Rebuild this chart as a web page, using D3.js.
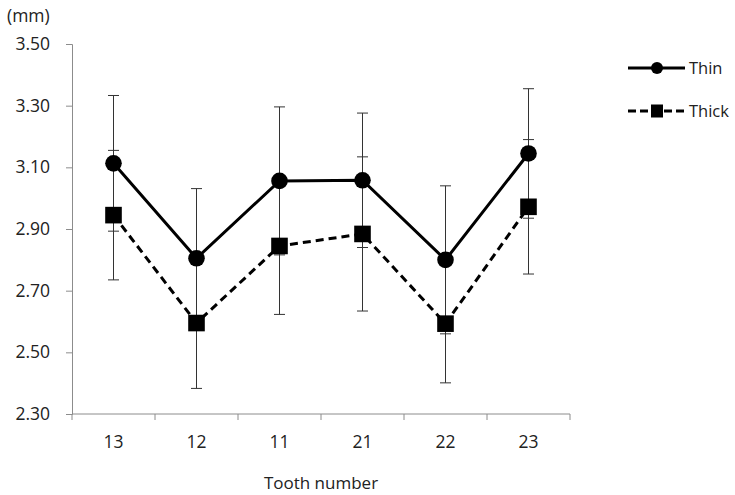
<!DOCTYPE html>
<html>
<head>
<meta charset="utf-8">
<script src="https://cdn.jsdelivr.net/npm/d3@7"></script>
<style>
  body { margin: 0; background: #fff; }
  text { font-family: "Open Sans", "Noto Sans", sans-serif; fill: #222; }
</style>
</head>
<body>
<div id="chart"></div>
<script>
// Data
const teeth = ["13", "12", "11", "21", "22", "23"];
const thinMean = [3.113, 2.805, 3.056, 3.058, 2.800, 3.145];
const thinSD   = [0.220, 0.226, 0.240, 0.218, 0.240, 0.210];
const thickMean = [2.945, 2.595, 2.845, 2.884, 2.593, 2.972];
const thickSD   = [0.210, 0.212, 0.222, 0.250, 0.192, 0.218];
const yTicks = [2.30, 2.50, 2.70, 2.90, 3.10, 3.30, 3.50];

const series = [
  { name: "Thin", mean: thinMean, sd: thinSD, dash: null, shape: "circle" },
  { name: "Thick", mean: thickMean, sd: thickSD, dash: "8,5", shape: "square" }
];

const W = 735, H = 495;
const margin = { top: 44, right: 165, bottom: 81, left: 72 };
const width = W - margin.left - margin.right;
const height = H - margin.top - margin.bottom;

const svg = d3.select("#chart").append("svg")
  .attr("width", W).attr("height", H);

const g = svg.append("g")
  .attr("transform", `translate(${margin.left},${margin.top})`);

const x = d3.scaleBand().domain(teeth).range([0, width]);
const y = d3.scaleLinear().domain([2.30, 3.50]).range([height, 0]);

// y axis
const yAxis = g.append("g")
  .call(d3.axisLeft(y).tickValues(yTicks).tickFormat(d3.format(".2f")).tickSizeOuter(0).tickSize(6).tickPadding(16));
yAxis.select(".domain").attr("stroke", "#8c8c8c");
yAxis.selectAll(".tick line").attr("stroke", "#8c8c8c");
yAxis.selectAll("text").style("font-size", "17.5px").attr("fill", "#222");

// x axis with ticks between categories
const xAxisG = g.append("g").attr("transform", `translate(0,${height})`);
xAxisG.append("line")
  .attr("x1", 0).attr("x2", width)
  .attr("stroke", "#8c8c8c");
const bounds = teeth.map(t => x(t)).concat([width]);
xAxisG.selectAll(".xt").data(bounds).join("line")
  .attr("x1", d => d).attr("x2", d => d)
  .attr("y1", 0).attr("y2", 6)
  .attr("stroke", "#8c8c8c");
xAxisG.selectAll(".xl").data(teeth).join("text")
  .attr("x", d => x(d) + x.bandwidth() / 2)
  .attr("y", 34)
  .attr("text-anchor", "middle")
  .style("font-size", "17.5px")
  .text(d => d);

// axis titles
svg.append("text").attr("x", 7).attr("y", 22)
  .style("font-size", "17.5px").text("(mm)");
svg.append("text").attr("x", margin.left + width / 2).attr("y", 489)
  .attr("text-anchor", "middle")
  .style("font-size", "17px").text("Tooth number");

const cx = d => x(d) + x.bandwidth() / 2;

// error bars
series.forEach(s => {
  const eb = g.append("g");
  teeth.forEach((t, i) => {
    const lo = y(s.mean[i] - s.sd[i]), hi = y(s.mean[i] + s.sd[i]);
    eb.append("line").attr("x1", cx(t)).attr("x2", cx(t))
      .attr("y1", lo).attr("y2", hi).attr("stroke", "#333").attr("stroke-width", 1);
    [lo, hi].forEach(v => {
      eb.append("line").attr("x1", cx(t) - 5.5).attr("x2", cx(t) + 5.5)
        .attr("y1", v).attr("y2", v).attr("stroke", "#333").attr("stroke-width", 1);
    });
  });
});

// lines and markers
const line = d3.line().x(d => cx(d.t)).y(d => y(d.v));
series.forEach(s => {
  const pts = teeth.map((t, i) => ({ t, v: s.mean[i] }));
  g.append("path").datum(pts)
    .attr("d", line)
    .attr("fill", "none")
    .attr("stroke", "#000")
    .attr("stroke-width", 3)
    .attr("stroke-dasharray", s.dash);
  if (s.shape === "circle") {
    g.selectAll(null).data(pts).join("circle")
      .attr("cx", d => cx(d.t)).attr("cy", d => y(d.v)).attr("r", 8.3)
      .attr("fill", "#000");
  } else {
    g.selectAll(null).data(pts).join("rect")
      .attr("x", d => cx(d.t) - 8.3).attr("y", d => y(d.v) - 8.3)
      .attr("width", 16.6).attr("height", 16.6)
      .attr("fill", "#000");
  }
});

// legend
const legend = svg.append("g").attr("transform", "translate(628,68)");
series.forEach((s, i) => {
  const row = legend.append("g").attr("transform", `translate(0,${i * 43})`);
  row.append("line").attr("x1", 0).attr("x2", 57)
    .attr("stroke", "#000").attr("stroke-width", 3)
    .attr("stroke-dasharray", s.dash ? "8,4" : null);
  if (s.shape === "circle") {
    row.append("circle").attr("cx", 29).attr("cy", 0).attr("r", 6).attr("fill", "#000");
  } else {
    row.append("rect").attr("x", 23).attr("y", -6.5).attr("width", 12).attr("height", 13).attr("fill", "#000");
  }
  row.append("text").attr("x", 61).attr("y", 6)
    .style("font-size", "16.5px").text(s.name);
});
</script>
</body>
</html>
